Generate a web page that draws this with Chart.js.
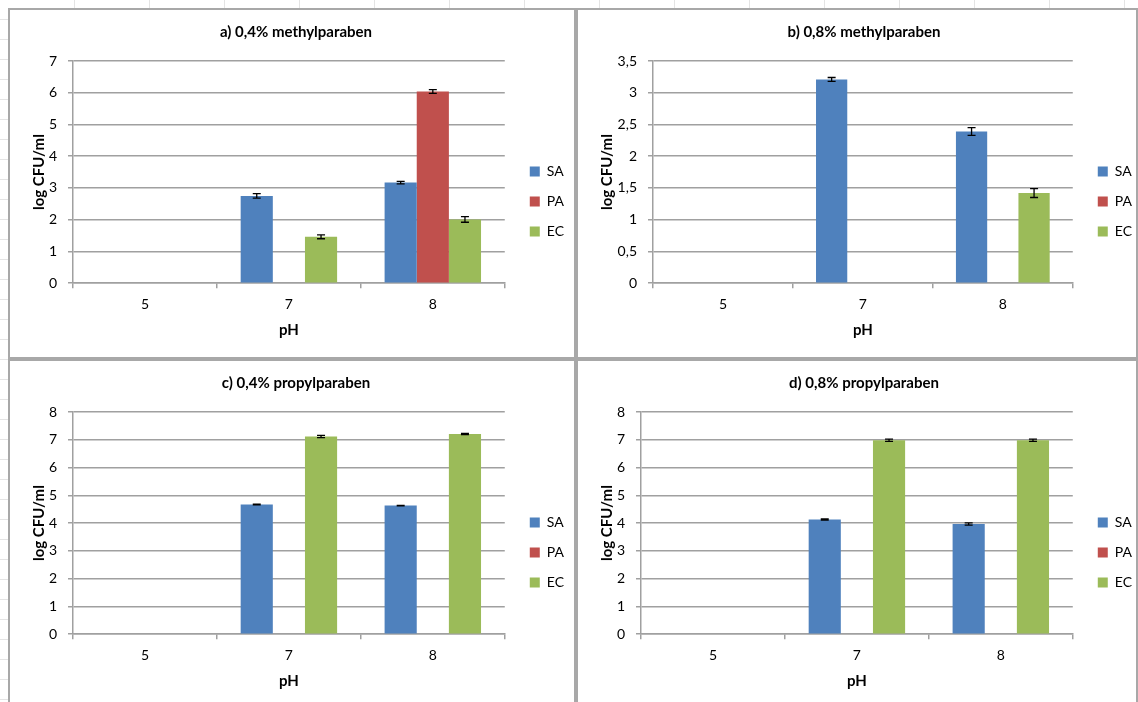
<!DOCTYPE html>
<html>
<head>
<meta charset="utf-8">
<script src="https://cdn.jsdelivr.net/npm/chart.js@4.4.1/dist/chart.umd.min.js"></script>
<style>
  html, body { margin: 0; padding: 0; }
  body {
    width: 1138px; height: 702px; overflow: hidden; position: relative;
    background-color: #fff;
    background-image:
      repeating-linear-gradient(to right, transparent 0, transparent 74px, #e4e4e4 74px, #e4e4e4 75px),
      repeating-linear-gradient(to bottom, transparent 0, transparent 19px, #e4e4e4 19px, #e4e4e4 20px);
  }
  .panel {
    position: absolute; box-sizing: border-box;
    border: 2px solid #a8a8a8; background: #fff;
  }
  .panel div { position: relative; width: 100%; height: 100%; }
  #pa { left: 8px; top: 8px; width: 568px; height: 351px; }
  #pb { left: 576px; top: 8px; width: 562px; height: 351px; }
  #pc { left: 8px; top: 359px; width: 568px; height: 351px; }
  #pd { left: 576px; top: 359px; width: 562px; height: 351px; }
</style>
</head>
<body>
<div class="panel" id="pa"><div><canvas id="chartA"></canvas></div></div>
<div class="panel" id="pb"><div><canvas id="chartB"></canvas></div></div>
<div class="panel" id="pc"><div><canvas id="chartC"></canvas></div></div>
<div class="panel" id="pd"><div><canvas id="chartD"></canvas></div></div>

<script>
const phLabels = ['5', '7', '8'];
const seriesNames = ['SA', 'PA', 'EC'];
const seriesColors = ['#4F81BD', '#C0504D', '#9BBB59'];

// a) 0,4% methylparaben
const methyl04SA = [null, 2.75, 3.17];
const methyl04PA = [null, null, 6.04];
const methyl04EC = [null, 1.46, 2.01];
const methyl04SAErr = [null, 0.07, 0.04];
const methyl04PAErr = [null, null, 0.06];
const methyl04ECErr = [null, 0.06, 0.09];

// b) 0,8% methylparaben
const methyl08SA = [null, 3.21, 2.39];
const methyl08PA = [null, null, null];
const methyl08EC = [null, null, 1.42];
const methyl08SAErr = [null, 0.03, 0.06];
const methyl08PAErr = [null, null, null];
const methyl08ECErr = [null, null, 0.07];

// c) 0,4% propylparaben
const propyl04SA = [null, 4.67, 4.63];
const propyl04PA = [null, null, null];
const propyl04EC = [null, 7.12, 7.21];
const propyl04SAErr = [null, 0.01, 0.01];
const propyl04PAErr = [null, null, null];
const propyl04ECErr = [null, 0.04, 0.02];

// d) 0,8% propylparaben
const propyl08SA = [null, 4.13, 3.97];
const propyl08PA = [null, null, null];
const propyl08EC = [null, 6.98, 6.98];
const propyl08SAErr = [null, 0.02, 0.04];
const propyl08PAErr = [null, null, null];
const propyl08ECErr = [null, 0.04, 0.04];

Chart.defaults.font.family = 'Lato, "Open Sans", sans-serif';
Chart.defaults.color = '#000';

const gridGray = '#a0a0a0';

// draws the +/- error whiskers on top of each bar
const errorBars = {
  id: 'errorBars',
  afterDatasetsDraw(chart) {
    const ctx = chart.ctx;
    const yScale = chart.scales.y;
    ctx.save();
    ctx.strokeStyle = '#000';
    ctx.lineWidth = 1.3;
    chart.data.datasets.forEach((ds, i) => {
      const meta = chart.getDatasetMeta(i);
      meta.data.forEach((bar, j) => {
        const v = ds.data[j];
        const e = ds.errors[j];
        if (v == null || e == null) return;
        const x = bar.x;
        const yHi = yScale.getPixelForValue(v + e);
        const yLo = yScale.getPixelForValue(v - e);
        ctx.beginPath();
        ctx.moveTo(x, yHi); ctx.lineTo(x, yLo);
        ctx.moveTo(x - 4, yHi); ctx.lineTo(x + 4, yHi);
        ctx.moveTo(x - 4, yLo); ctx.lineTo(x + 4, yLo);
        ctx.stroke();
      });
    });
    ctx.restore();
  }
};

function makeChart(canvasId, title, values, errors, yMax, yStep, yWidth, padRight) {
  return new Chart(document.getElementById(canvasId), {
    type: 'bar',
    data: {
      labels: phLabels,
      datasets: seriesNames.map((name, i) => ({
        label: name,
        data: values[i],
        errors: errors[i],
        backgroundColor: seriesColors[i],
        borderWidth: 0,
        categoryPercentage: 0.67,
        barPercentage: 1
      }))
    },
    options: {
      responsive: true,
      maintainAspectRatio: false,
      animation: false,
      layout: { padding: { left: 8, right: padRight, top: 0, bottom: 18 } },
      plugins: {
        tooltip: { enabled: false },
        title: {
          display: true,
          text: title,
          color: '#000',
          font: { size: 15, weight: 'bold' },
          padding: { top: 13, bottom: 20 }
        },
        legend: {
          position: 'right',
          title: { display: true, text: '', font: { size: 10 }, padding: 21 },
          labels: {
            boxWidth: 10,
            boxHeight: 10,
            padding: 16,
            color: '#000',
            font: { size: 14 }
          }
        }
      },
      scales: {
        x: {
          grid: { offset: true, drawOnChartArea: false, color: gridGray, lineWidth: 1.5, tickLength: 5 },
          border: { color: gridGray, width: 1.5 },
          ticks: { padding: 8, font: { size: 14 }, color: '#000' },
          title: { display: true, text: 'pH', color: '#000', font: { size: 15, weight: 'bold' }, padding: { top: 0, bottom: 0 } }
        },
        y: {
          min: 0,
          max: yMax,
          grid: { color: gridGray, lineWidth: 1.5, tickLength: 5 },
          border: { color: gridGray, width: 1.5 },
          ticks: {
            stepSize: yStep,
            padding: 11,
            font: { size: 14 },
            color: '#000',
            callback: v => String(v).replace('.', ',')
          },
          title: { display: true, text: 'log CFU/ml', color: '#000', font: { size: 15, weight: 'bold' }, padding: { top: 12, bottom: 4 } },
          afterFit: s => { s.width = yWidth; }
        },
        // empty strip between plot and legend
        gap: {
          type: 'linear',
          position: 'right',
          display: true,
          grid: { display: false },
          border: { display: false },
          ticks: { display: false },
          afterFit: s => { s.width = 9; }
        }
      }
    },
    plugins: [errorBars]
  });
}

makeChart('chartA', 'a) 0,4% methylparaben',
  [methyl04SA, methyl04PA, methyl04EC], [methyl04SAErr, methyl04PAErr, methyl04ECErr],
  7, 1, 55, 0);
makeChart('chartB', 'b) 0,8% methylparaben',
  [methyl08SA, methyl08PA, methyl08EC], [methyl08SAErr, methyl08PAErr, methyl08ECErr],
  3.5, 0.5, 67, -6);
makeChart('chartC', 'c) 0,4% propylparaben',
  [propyl04SA, propyl04PA, propyl04EC], [propyl04SAErr, propyl04PAErr, propyl04ECErr],
  8, 1, 55, 0);
makeChart('chartD', 'd) 0,8% propylparaben',
  [propyl08SA, propyl08PA, propyl08EC], [propyl08SAErr, propyl08PAErr, propyl08ECErr],
  8, 1, 55, -6);
</script>
</body>
</html>
